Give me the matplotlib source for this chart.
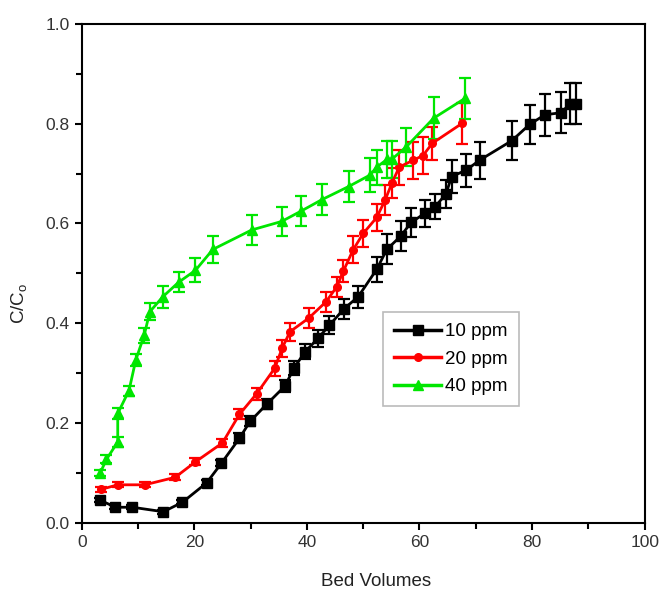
import matplotlib
matplotlib.use("Agg")
import matplotlib.pyplot as plt
from matplotlib.ticker import MultipleLocator, FormatStrFormatter
from matplotlib.lines import Line2D

plt.rcParams['font.family'] = ['Liberation Sans', 'DejaVu Sans']
plt.rcParams['mathtext.fontset'] = 'custom'
plt.rcParams['mathtext.rm'] = 'Liberation Sans'

# 10 ppm
x10 = [3.3, 6.0, 9.0, 14.5, 17.9, 22.2, 24.8, 28.0, 29.9, 32.9, 36.1, 37.7, 39.7, 42.0,
       44.0, 46.6, 49.1, 52.4, 54.2, 56.7, 58.5, 60.9, 62.8, 64.7, 65.7, 68.3, 70.7,
       76.4, 79.6, 82.3, 85.1, 86.8, 87.8]
y10 = [0.045, 0.031, 0.031, 0.022, 0.041, 0.080, 0.119, 0.169, 0.203, 0.238, 0.274, 0.310,
       0.343, 0.370, 0.396, 0.429, 0.453, 0.508, 0.548, 0.575, 0.602, 0.620, 0.634, 0.659,
       0.694, 0.707, 0.727, 0.766, 0.799, 0.818, 0.822, 0.840, 0.840]
e10 = [0.004, 0.004, 0.004, 0.004, 0.004, 0.005, 0.006, 0.010, 0.010, 0.010, 0.012, 0.014,
       0.015, 0.017, 0.018, 0.020, 0.022, 0.025, 0.030, 0.030, 0.030, 0.028, 0.025, 0.028,
       0.033, 0.033, 0.037, 0.039, 0.039, 0.042, 0.041, 0.041, 0.041]

# 20 ppm
x20 = [3.5, 6.4, 11.2, 16.6, 20.2, 25.0, 28.0, 31.1, 34.3, 35.6, 37.0, 40.3, 43.4, 45.3,
       46.5, 48.2, 50.0, 52.4, 53.9, 55.1, 56.4, 58.9, 60.6, 62.3, 67.6]
y20 = [0.067, 0.076, 0.076, 0.091, 0.122, 0.160, 0.217, 0.259, 0.310, 0.350, 0.383, 0.410,
       0.443, 0.473, 0.505, 0.547, 0.580, 0.612, 0.647, 0.681, 0.713, 0.727, 0.736, 0.761,
       0.801]
e20 = [0.005, 0.005, 0.005, 0.006, 0.007, 0.008, 0.010, 0.012, 0.015, 0.017, 0.018, 0.020,
       0.020, 0.020, 0.022, 0.027, 0.027, 0.028, 0.030, 0.030, 0.035, 0.037, 0.037, 0.033,
       0.041]

# 40 ppm
x40 = [3.25, 4.4, 6.4, 6.4, 8.4, 9.6, 11.1, 12.1, 14.4, 17.2, 20.2, 23.3, 30.2, 35.5,
       39.0, 42.7, 47.4, 51.2, 52.4, 54.3, 55.1, 57.6, 62.5, 68.1]
y40 = [0.099, 0.127, 0.162, 0.219, 0.265, 0.326, 0.376, 0.423, 0.453, 0.482, 0.506, 0.548,
       0.587, 0.604, 0.625, 0.648, 0.674, 0.697, 0.713, 0.729, 0.729, 0.753, 0.811, 0.851]
e40 = [0.006, 0.008, 0.010, 0.012, 0.010, 0.012, 0.015, 0.017, 0.022, 0.020, 0.024, 0.027,
       0.030, 0.030, 0.030, 0.032, 0.031, 0.034, 0.035, 0.037, 0.037, 0.038, 0.042, 0.041]

labels = ['10 ppm', '20 ppm', '40 ppm']
colors = ['black', '#ff0000', '#00e600']
markers = ['s', 'o', '^']
msizes = [7, 5.5, 6.5]

fig = plt.figure(figsize=(6.6, 5.95), dpi=100)
ax = fig.add_axes([0.1238, 0.1215, 0.853, 0.8382])

for xs, ys, es, lab, c, m, ms in zip([x10, x20, x40], [y10, y20, y40], [e10, e20, e40],
                                     labels, colors, markers, msizes):
    ax.errorbar(xs, ys, yerr=es, color=c, marker=m, markersize=ms, linewidth=2,
                elinewidth=1.6, capsize=4, capthick=1.6, label=lab)

ax.set_xlim(0, 100)
ax.set_ylim(0, 1.0)
ax.xaxis.set_major_locator(MultipleLocator(20))
ax.xaxis.set_minor_locator(MultipleLocator(10))
ax.yaxis.set_major_locator(MultipleLocator(0.2))
ax.yaxis.set_minor_locator(MultipleLocator(0.1))
ax.yaxis.set_major_formatter(FormatStrFormatter('%.1f'))
ax.tick_params(which='major', direction='out', length=5, width=1.5, labelsize=12.5,
               colors='black', labelcolor='#333333')
ax.tick_params(which='minor', direction='out', length=4, width=1.5)
for s in ax.spines.values():
    s.set_linewidth(1.5)

ax.set_xlabel('Bed Volumes', fontsize=13.5, color='#222222')
ax.set_ylabel(r'C/C$_\mathrm{o}$', fontsize=13.5, color='#222222')
ax.xaxis.set_label_coords(0.523, -0.100)
ax.yaxis.set_label_coords(-0.092, 0.44)

hs = [Line2D([], [], color=c, marker=m, markersize=ms, linewidth=2.5)
      for c, m, ms in zip(colors, markers, msizes)]
leg = ax.legend(hs, labels, loc='upper left', bbox_to_anchor=(0.535, 0.4225), fontsize=13.5,
                frameon=True, fancybox=False, edgecolor='#bbbbbb', framealpha=1,
                handlelength=2.5, handletextpad=0.2, borderpad=0.6, labelspacing=0.55,
                borderaxespad=0)
leg.get_frame().set_linewidth(1.2)

fig.savefig('out.png', dpi=100)
